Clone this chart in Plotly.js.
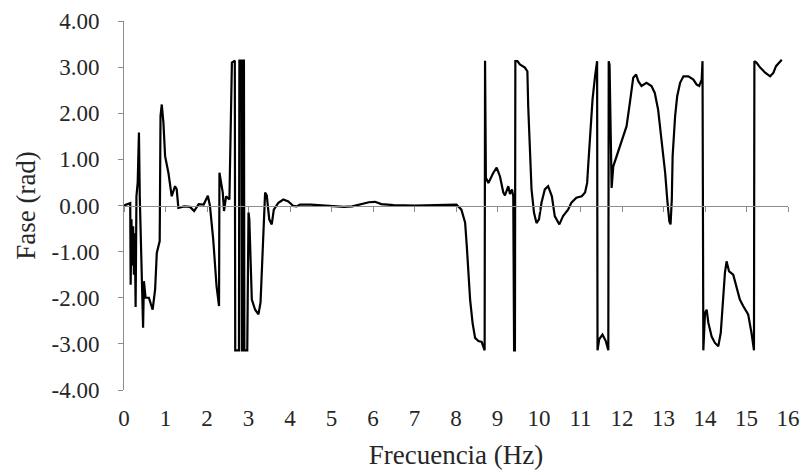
<!DOCTYPE html>
<html><head><meta charset="utf-8">
<script src="https://cdn.plot.ly/plotly-3.0.1.min.js"></script>
<style>html,body{margin:0;padding:0;background:#fff}#chart{width:802px;height:475px}</style>
</head><body><div id="chart"></div>
<script>
var freq = [0.00,0.15,0.16,0.18,0.20,0.22,0.24,0.26,0.28,0.30,0.33,0.36,0.38,0.41,0.46,0.48,0.52,0.60,0.69,0.75,0.79,0.86,0.88,0.91,0.95,0.99,1.07,1.15,1.23,1.27,1.31,1.45,1.59,1.69,1.80,1.92,2.02,2.07,2.15,2.23,2.29,2.30,2.33,2.38,2.41,2.46,2.54,2.57,2.60,2.67,2.68,2.77,2.78,2.83,2.84,2.86,2.87,2.89,2.90,2.97,3.00,3.02,3.04,3.08,3.16,3.24,3.29,3.35,3.40,3.44,3.50,3.56,3.61,3.72,3.84,3.96,4.08,4.16,4.24,4.50,4.80,5.10,5.30,5.50,5.70,5.90,6.05,6.20,6.50,7.00,7.50,8.01,8.13,8.22,8.26,8.30,8.34,8.40,8.46,8.54,8.62,8.69,8.70,8.72,8.74,8.78,8.90,8.98,9.06,9.14,9.18,9.26,9.30,9.35,9.38,9.40,9.42,9.43,9.48,9.54,9.66,9.72,9.74,9.78,9.82,9.88,9.94,10.00,10.06,10.14,10.22,10.31,10.38,10.49,10.58,10.70,10.78,10.90,11.03,11.11,11.16,11.19,11.23,11.29,11.35,11.40,11.41,11.45,11.53,11.61,11.67,11.68,11.70,11.72,11.75,11.79,11.87,11.99,12.11,12.19,12.27,12.34,12.39,12.47,12.59,12.71,12.79,12.87,12.95,13.04,13.09,13.14,13.17,13.20,13.22,13.28,13.33,13.40,13.48,13.60,13.72,13.80,13.86,13.92,13.94,13.96,14.00,14.04,14.08,14.16,14.24,14.32,14.38,14.44,14.48,14.52,14.58,14.68,14.76,14.84,14.92,15.04,15.12,15.18,15.19,15.24,15.33,15.45,15.57,15.65,15.71,15.81,15.85];
var phase = [0.00,0.05,-1.72,-0.30,-1.30,-0.45,-1.50,-0.60,-2.20,0.20,0.50,1.58,0.20,-0.85,-2.65,-1.64,-2.00,-2.00,-2.26,-1.82,-1.03,-0.77,1.94,2.19,1.80,1.07,0.71,0.20,0.42,0.35,-0.05,-0.02,-0.03,-0.12,0.03,0.02,0.21,0.00,-0.74,-1.75,-2.18,0.71,0.55,0.28,-0.12,0.20,0.13,1.58,3.10,3.14,-3.14,-3.14,3.14,3.14,-3.14,-3.14,3.14,3.14,-3.14,-3.14,-0.15,-0.30,-1.10,-2.04,-2.26,-2.36,-2.10,-0.74,0.28,0.22,-0.30,-0.41,-0.09,0.06,0.13,0.09,-0.01,-0.02,0.02,0.02,0.00,-0.01,-0.03,-0.02,0.02,0.07,0.08,0.03,0.01,0.00,0.01,0.02,-0.09,-0.37,-0.88,-1.60,-2.04,-2.55,-2.87,-2.94,-2.96,-3.14,3.14,0.60,0.56,0.49,0.71,0.82,0.63,0.28,0.22,0.42,0.25,0.35,0.20,-3.14,-3.14,3.13,3.13,3.06,2.99,2.91,2.15,1.21,0.35,-0.16,-0.38,-0.30,0.06,0.35,0.42,0.20,-0.23,-0.41,-0.23,-0.09,0.06,0.17,0.20,0.28,0.49,0.93,1.43,2.30,2.80,3.13,-3.14,-2.90,-2.80,-2.94,-3.14,3.13,3.05,2.08,0.38,0.85,1.07,1.36,1.72,2.23,2.77,2.84,2.70,2.59,2.66,2.59,2.44,2.08,1.43,0.71,0.13,-0.34,-0.41,0.13,1.07,1.94,2.37,2.66,2.80,2.80,2.73,2.62,2.59,2.73,3.13,-3.14,-2.33,-2.26,-2.54,-2.84,-2.98,-3.05,-2.76,-1.89,-1.46,-1.21,-1.43,-1.50,-1.75,-2.04,-2.18,-2.36,-2.76,-3.14,3.13,3.10,2.99,2.88,2.80,2.88,3.02,3.13,3.16];
var xTicks = [0,1,2,3,4,5,6,7,8,9,10,11,12,13,14,15,16];
var yTicks = [-4,-3,-2,-1,0,1,2,3,4];
var yTickText = ["-4.00","-3.00","-2.00","-1.00","0.00","1.00","2.00","3.00","4.00"];

var font = "Liberation Serif";
var axisGray = "#8c8c8c";
var textCol = "#262626";
var clear = "rgba(0,0,0,0)";

var traces = [
  {x: freq, y: phase, type: "scatter", mode: "lines", line: {color: "#000", width: 2.2}, xaxis: "x", yaxis: "y", hoverinfo: "skip"},
  {x: [], y: [], type: "scatter", mode: "lines", xaxis: "x2", yaxis: "y2", showlegend: false}
];

var layout = {
  width: 802, height: 475,
  margin: {l: 124, r: 14, t: 21, b: 85, pad: 0},
  paper_bgcolor: "#fff", plot_bgcolor: "#fff",
  showlegend: false,
  font: {family: font, color: textCol, size: 23},
  xaxis: {
    range: [0, 16], tickvals: xTicks, ticktext: xTicks.map(String),
    showline: false, showgrid: false, zeroline: false,
    ticks: "outside", ticklen: 7, tickcolor: clear,
    tickfont: {family: font, size: 23, color: textCol},
    title: {text: "Frecuencia (Hz)", font: {family: font, size: 27, color: textCol}, standoff: 15}
  },
  xaxis2: {
    range: [0, 16], overlaying: "x", anchor: "free", position: 0.5, side: "bottom",
    tickvals: xTicks, showticklabels: false,
    showline: true, linecolor: axisGray, linewidth: 1,
    ticks: "outside", ticklen: 5, tickcolor: axisGray, tickwidth: 1,
    showgrid: false, zeroline: false
  },
  yaxis: {
    range: [-4, 4], tickvals: yTicks, ticktext: yTickText,
    showline: false, showgrid: false, zeroline: false,
    ticks: "outside", ticklen: 19, tickcolor: clear,
    tickfont: {family: font, size: 23, color: textCol},
    title: {text: "Fase (rad)", font: {family: font, size: 27, color: textCol}, standoff: 8}
  },
  yaxis2: {
    range: [-4, 4], overlaying: "y", anchor: "x", side: "left",
    tickvals: yTicks, showticklabels: false,
    showline: true, linecolor: axisGray, linewidth: 1,
    ticks: "outside", ticklen: 5, tickcolor: axisGray, tickwidth: 1,
    showgrid: false, zeroline: false
  }
};

Plotly.newPlot("chart", traces, layout, {staticPlot: true, displayModeBar: false});
</script>
</body></html>
